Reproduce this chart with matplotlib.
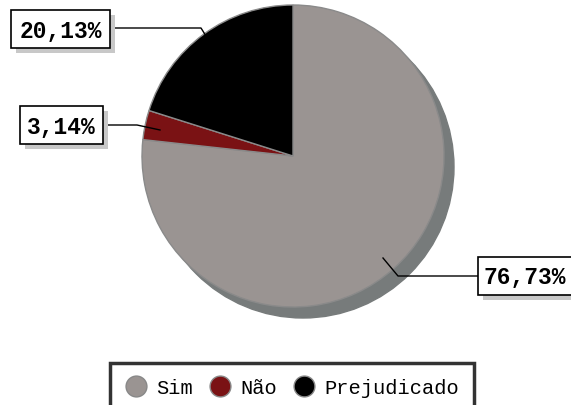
import matplotlib.pyplot as plt
from matplotlib.patches import Circle, Rectangle
from matplotlib.lines import Line2D

labels = ['Sim', 'Não', 'Prejudicado']
values = [76.73, 3.14, 20.13]
pct_text = ['76,73%', '3,14%', '20,13%']
colors = ['#9a9492', '#7a1214', '#000000']

W, H = 571, 406
fig = plt.figure(figsize=(W / 100, H / 100), dpi=100)
ax = fig.add_axes([0, 0, 1, 1])

cx, cy, r = 293, H - 157, 151

# shadow of the pie
ax.add_patch(Circle((cx + 10, cy - 11), r, color='#777b7b', zorder=1))

ax.pie(values, colors=colors, startangle=90, counterclock=False,
       center=(cx, cy), radius=r, frame=True,
       wedgeprops=dict(edgecolor='#8a8a8a', linewidth=1))
ax.set_xlim(0, W)
ax.set_ylim(0, H)
ax.set_aspect('equal')
ax.axis('off')

# label boxes: left, top, right, bottom (pixels from top-left), text x, leader line
boxes = [
    (pct_text[0], (478, 258, 575, 296), 525, [(478, 277), (398, 277), (383, 259)]),
    (pct_text[1], (20, 107, 103, 145), 61.5, [(103, 126), (137, 126), (160, 131)]),
    (pct_text[2], (11, 11, 110, 49), 60.5, [(110, 29), (201, 29), (206, 37)]),
]
for txt, (x0, y0, x1, y1), tx, pts in boxes:
    xs = [p[0] for p in pts]
    ys = [H - p[1] for p in pts]
    ax.plot(xs, ys, color='black', lw=1, zorder=3)
    ax.add_patch(Rectangle((x0 + 5, H - y1 - 5), x1 - x0, y1 - y0,
                           fc='#c8c8c8', ec='none', zorder=4))
    ax.add_patch(Rectangle((x0, H - y1), x1 - x0, y1 - y0,
                           fc='white', ec='black', lw=1.2, zorder=5))
    ax.text(tx, H - (y0 + y1) / 2 - 1, txt,
            ha='center', va='center', fontsize=16.5,
            fontweight='bold', family='Liberation Mono', zorder=6)

handles = [Line2D([], [], marker='o', ls='', markersize=15, markerfacecolor=c,
                  markeredgecolor='#888888', markeredgewidth=1) for c in colors]
leg = fig.legend(handles, labels, loc='upper left', ncol=3,
                 bbox_to_anchor=(110 / W, 1 - 364 / H), borderaxespad=0,
                 prop={'family': 'Liberation Mono', 'size': 14.7},
                 frameon=True, fancybox=False, edgecolor='black',
                 handletextpad=0.5, columnspacing=0.82, borderpad=0.75,
                 handlelength=1.0)
leg.get_frame().set_linewidth(2.5)

fig.savefig('out.png', dpi=100)
